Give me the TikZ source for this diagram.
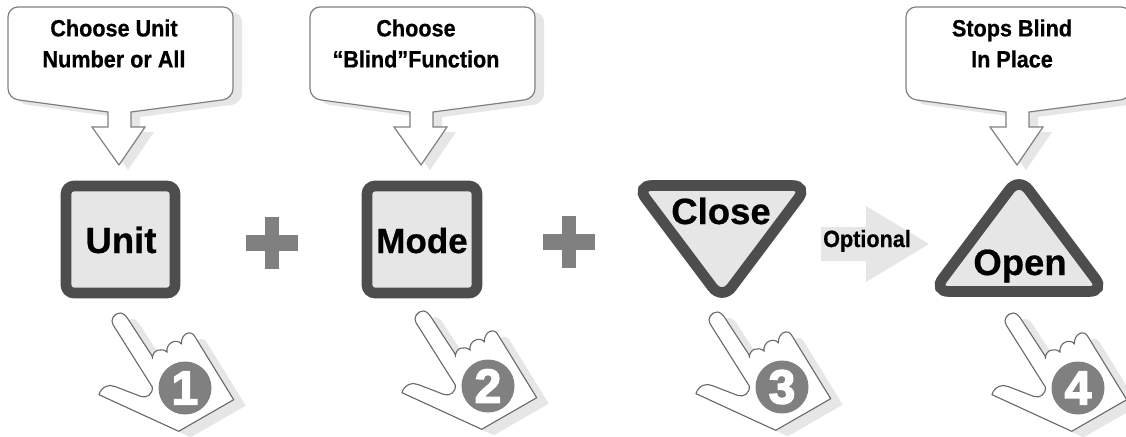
\documentclass[tikz,border=0pt]{standalone}
\usepackage{fontspec}
\setmainfont[BoldFeatures={FakeBold=0.6}]{Liberation Sans}
\newfontfamily\digitfont[BoldFeatures={FakeBold=3}]{Liberation Sans}
\newfontfamily\slimfont[BoldFeatures={FakeBold=0.6,FakeStretch=0.92}]{Liberation Sans}
\usepackage{tikz}
\usetikzlibrary{arrows.meta,positioning,quotes}

\definecolor{shadowgray}{HTML}{E6E6E6}
\definecolor{keyedge}{HTML}{4D4D4D}
\definecolor{midgray}{HTML}{808080}

\newcommand{\calloutpath}{(-11,-53) -- (-11,-38) -- (-27,-38) -- (0,0) -- (26,-38) -- (12,-38) -- (12,-53)
	[rounded corners=10] -- (114,-66.5) -- (114,-158) -- (-111,-158) -- (-111,-66.5) [sharp corners] -- cycle}
\newcommand{\handpath}{(-72,-63.3) .. controls (-75,-68) and (-71,-75) .. (-64.7,-75) .. controls (-62,-75) and (-59,-72) .. (-57.7,-70)
	-- (-33.7,-33.3) .. controls (-32,-31) and (-32.5,-30) .. (-32.7,-29)
	.. controls (-32.7,-38.3) and (-23.7,-40.7) .. (-18,-36)
	.. controls (-19.3,-45) and (-8.7,-50) .. (-3.7,-44.3)
	.. controls (-3.7,-55) and (6.3,-58.3) .. (9.7,-51.7)
	-- (48.7,11.7) -- (-6.3,43.3) -- (-86,6.7)
	.. controls (-85,2) and (-81,-2) .. (-75,-2.5) .. controls (-73,-2.5) and (-72,-2.3) .. (-70,-1.5)
	-- (-44,8.5) .. controls (-38,10.5) and (-32,6) .. (-32.7,-1) -- cycle}

\begin{document}
\begin{tikzpicture}[x=1pt,y=-1pt]

\tikzset{
	callout/.pic={
		\fill[shadowgray,shift={(9,5)}] \calloutpath;
		\draw[midgray,line width=1.2pt,fill=white] \calloutpath;
	},
	hand/.pic={
		\fill[shadowgray,shift={(12,6)}] \handpath;
		\draw[keyedge!85,line width=1.1pt,fill=white] \handpath;
		\fill[midgray] (0,0) circle (26.5);
	},
	calltext/.style={font=\slimfont\fontsize{23.5}{31}\selectfont\bfseries,align=center,inner sep=0pt},
	keytext/.style={font=\fontsize{36.5}{40}\selectfont\bfseries,anchor=base,inner sep=0pt},
	keyshape/.style={draw=keyedge,fill=shadowgray,line width=10.7pt,rounded corners=8},
	digit/.style={text=white,font=\digitfont\fontsize{48}{48}\selectfont\bfseries,inner sep=0pt}
}

\useasboundingbox (0,0) rectangle (1126,436);
\clip (0,0) rectangle (1126,436);

% callouts on top
\foreach \x/\n/\t in {119/unit/{Choose Unit\\Number or All},421/mode/{Choose\\“Blind”Function},1017/stops/{Stops Blind\\In Place}}
{
	\pic at (\x,165) {callout};
	\node (say\n)[calltext] at (\x-5,43.5){\t};
}

% the keys
\draw[keyshape] (66,186) rectangle (175,293);
\draw[keyshape] (367,186) rectangle (477,293);
\draw[keyshape,rounded corners=16] (636,185.5) -- (808,185.5) -- (722,300) -- cycle;
\draw[keyshape,rounded corners=16] (933,291.5) -- (1105,291.5) -- (1019,177) -- cycle;

\node (unit)[keytext] at (121,253){Unit};
\node (mode)[keytext,font=\fontsize{35}{40}\selectfont\bfseries] at (422,253){Mode};
\node (close)[keytext] at (721,224){Close};
\node (open)[keytext] at (1020,275){Open};

% plus signs
\foreach \x/\y in {272/243,569/242}
{
	\fill[midgray] (\x-26,\y-8) rectangle (\x+26,\y+8);
	\fill[midgray] (\x-7,\y-26) rectangle (\x+7,\y+26);
}

% the optional arrow
\fill[shadowgray] (821,227) -- (866,227) -- (866,206) -- (929,244) -- (866,282) -- (866,261) -- (821,261) -- cycle;
\node (optional)[font=\slimfont\fontsize{23.5}{24}\selectfont\bfseries,anchor=base,inner sep=0pt] at (867,247){Optional};

% hands with their numbers
\foreach \x/\y/\n in {185/388/1,488/386/2,782/387/3,1078/388/4}
{
	\pic at (\x,\y) {hand};
	\node (num\n)[digit] at (\x,\y){\n};
}

\end{tikzpicture}
\end{document}
